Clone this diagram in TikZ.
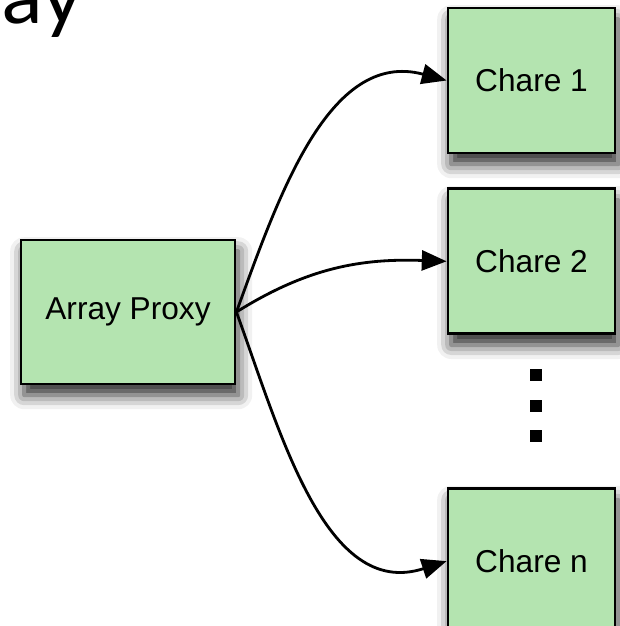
\documentclass[tikz,border=0pt]{standalone}
\usepackage{fontspec}
\setmainfont{Liberation Sans}
\newfontfamily\headfont{Lato}
\usetikzlibrary{arrows.meta, positioning, shadows.blur}
\definecolor{charegreen}{RGB}{180,228,176}

\begin{document}
\begin{tikzpicture}[
    box/.style={draw, rectangle, fill=charegreen, line width=2pt, font=\fontsize{22.5}{27}\selectfont,
        blur shadow={shadow xshift=0.08cm, shadow yshift=-0.28cm, shadow blur radius=0.35cm, shadow opacity=85}},
    chare/.style={box, minimum width=4.175cm, minimum height=3.625cm},
    dot/.style={fill=black, inner sep=0pt, minimum size=0.3cm},
    link/.style={-{Triangle[length=0.62cm, width=0.5cm]}, line width=2pt}
]
    \useasboundingbox (0,0) rectangle (15.475,-15.65);

    % Heading, cut off at the top left corner
    \node[anchor=base west, inner sep=0pt, font=\headfont\fontsize{58}{66}\selectfont] (head) at (0.05,-0.6) {ay};

    % Proxy box on the left
    \node[box, minimum width=5.35cm, minimum height=3.6cm] (proxy) at (3.2,-7.8) {Array Proxy};

    % Column of chares on the right
    \node[chare] (chare1) at (13.2875,-2.0125) {Chare 1};
    \node[chare, below=0.825cm of chare1] (chare2) {Chare 2};
    \node[chare, below=3.8cm of chare2] (charen) {Chare n};

    % Vertical dots between Chare 2 and Chare n
    \node[dot] (dot1) at (13.4,-9.375) {};
    \node[dot, below=0.45cm of dot1] (dot2) {};
    \node[dot, below=0.45cm of dot2] (dot3) {};

    % Curved links from the proxy to each chare
    \draw[link] (proxy.east) to[out=70, in=165] (chare1.west);
    \draw[link] (proxy.east) to[out=32, in=178] (chare2.west);
    \draw[link] (proxy.east) to[out=-70, in=198] (charen.west);
\end{tikzpicture}
\end{document}
